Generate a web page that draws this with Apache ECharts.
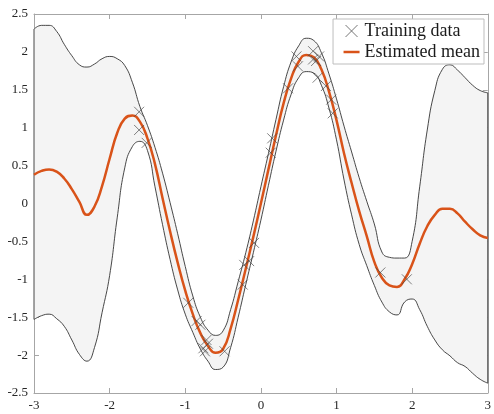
<!DOCTYPE html>
<html>
<head>
<meta charset="utf-8">
<script src="https://cdn.jsdelivr.net/npm/echarts@6/dist/echarts.min.js"></script>
<style>
  html, body { margin: 0; padding: 0; background: #fff; }
  #chart { width: 494px; height: 414px; }
</style>
</head>
<body>
<div id="chart"></div>
<script>
// sample positions along x
var xs = [-3.0, -2.9, -2.8, -2.7, -2.6, -2.5, -2.4, -2.3, -2.2, -2.1,
          -2.0, -1.9, -1.8, -1.7, -1.6, -1.5, -1.4, -1.3, -1.2, -1.1,
          -1.0, -0.9, -0.8, -0.7, -0.6, -0.5, -0.4, -0.3, -0.2, -0.1,
           0.0,  0.1,  0.2,  0.3,  0.4,  0.5,  0.6,  0.7,  0.8,  0.9,
           1.0,  1.1,  1.2,  1.3,  1.4,  1.5,  1.6,  1.7,  1.8,  1.9,
           2.0,  2.1,  2.2,  2.3,  2.4,  2.5,  2.6,  2.7,  2.8,  2.9, 3.0];

var meanVals = [0.38, 0.43, 0.45, 0.42, 0.33, 0.19, 0.02, -0.15, -0.04, 0.23,
                0.59, 0.93, 1.12, 1.16, 1.08, 0.86, 0.52, 0.07, -0.37, -0.78,
                -1.15, -1.46, -1.71, -1.88, -1.97, -1.92, -1.65, -1.27, -0.86, -0.44,
                0.0, 0.45, 0.90, 1.32, 1.65, 1.87, 1.96, 1.93, 1.77, 1.48,
                1.10, 0.66, 0.27, -0.10, -0.43, -0.77, -0.98, -1.08, -1.10, -1.00,
                -0.80, -0.53, -0.30, -0.15, -0.07, -0.07, -0.13, -0.24, -0.34, -0.42, -0.455];

var upperVals = [2.30, 2.35, 2.35, 2.27, 2.10, 1.95, 1.83, 1.80, 1.84, 1.91,
                 1.94, 1.91, 1.82, 1.60, 1.28, 1.03, 0.74, 0.40, 0.01, -0.40,
                 -0.83, -1.22, -1.50, -1.67, -1.74, -1.68, -1.40, -1.03, -0.65, -0.23,
                 0.22, 0.66, 1.11, 1.54, 1.87, 2.08, 2.18, 2.15, 1.99, 1.71,
                 1.38, 1.02, 0.68, 0.34, 0.03, -0.27, -0.64, -0.71, -0.72, -0.72,
                 -0.50, 0.22, 0.97, 1.49, 1.77, 1.83, 1.76, 1.66, 1.56, 1.49, 1.46];

var lowerVals = [-1.53, -1.48, -1.46, -1.52, -1.62, -1.80, -1.99, -2.08, -1.90, -1.44,
                 -0.95, -0.19, 0.47, 0.75, 0.82, 0.70, 0.22, -0.28, -0.74, -1.14,
                 -1.46, -1.70, -1.92, -2.08, -2.19, -2.16, -1.90, -1.50, -1.07, -0.65,
                 -0.22, 0.24, 0.69, 1.10, 1.44, 1.66, 1.74, 1.72, 1.56, 1.26,
                 0.84, 0.31, -0.15, -0.54, -0.82, -1.08, -1.30, -1.43, -1.47, -1.30,
                 -1.26, -1.40, -1.62, -1.80, -1.93, -2.01, -2.10, -2.15, -2.24, -2.32, -2.37];

// training points
var trainX = [-1.61, -1.61, -1.51, -0.96, -0.85, -0.80, -0.72, -0.70, -0.76, -0.74, -0.48,
              -0.24, -0.22, -0.155, -0.09, 0.13, 0.15,
              0.36, 0.47, 0.49, 0.69, 0.69, 0.73, 0.77, 0.75, 0.86, 0.93, 0.95,
              1.58, 1.93];
var trainY = [1.21, 0.97, 0.80, -1.31, -1.55, -1.60, -1.80, -1.85, -1.91, -1.95, -1.95,
              -1.07, -0.81, -0.76, -0.52, 0.67, 0.86,
              1.52, 1.94, 1.81, 2.01, 1.90, 1.88, 1.94, 1.66, 1.55, 1.37, 1.19,
              -0.91, -1.00];

var serif = '"Liberation Serif", "DejaVu Serif", serif';
var axisGrey = '#a6a6a6';
var last = xs.length - 1;

// band thickness for the stacked fill
var bandDiff = upperVals.map(function (u, i) { return +(u - lowerVals[i]).toFixed(3); });

var lineAxis = { show: true, onZero: false, lineStyle: { color: axisGrey, width: 1 } };
var tickIn = { show: true, inside: true, length: 5, lineStyle: { color: axisGrey } };
var labelStyle = { color: '#262626', fontFamily: serif, fontSize: 13, margin: 6 };

var myChart = echarts.init(document.getElementById('chart'));

var thinLine = { color: '#333333', width: 0.9 };

var option = {
    animation: false,
    grid: { left: 34, right: 5, top: 14, bottom: 21, containLabel: false },
    xAxis: [
        {
            type: 'category', position: 'bottom', boundaryGap: false,
            data: xs.map(function (x) { return String(x); }),
            axisLine: lineAxis,
            axisTick: Object.assign({ interval: 9 }, tickIn),
            axisLabel: Object.assign({ interval: 9 }, labelStyle),
            splitLine: { show: false }
        },
        {
            type: 'value', position: 'top', min: -3, max: 3, interval: 1,
            axisLine: lineAxis, axisTick: tickIn,
            axisLabel: { show: false }, splitLine: { show: false }
        }
    ],
    yAxis: [
        {
            type: 'value', position: 'left', min: -2.5, max: 2.5, interval: 0.5,
            axisLine: lineAxis, axisTick: tickIn, axisLabel: labelStyle,
            splitLine: { show: false }
        },
        {
            type: 'value', position: 'right', min: -2.5, max: 2.5, interval: 0.5,
            axisLine: lineAxis, axisTick: tickIn, axisLabel: { show: false },
            splitLine: { show: false }
        }
    ],
    legend: {
        right: 10, top: 19,
        orient: 'vertical',
        backgroundColor: '#ffffff',
        borderColor: '#bdbdbd', borderWidth: 1, borderRadius: 0,
        padding: [3, 4, 3, 10],
        itemGap: 3,
        itemWidth: 16, itemHeight: 12,
        symbolKeepAspect: true,
        textStyle: { fontFamily: serif, fontSize: 18, color: '#1a1a1a' },
        data: [
            { name: 'Training data', icon: 'path://M0,0L10,10M10,0L0,10',
              itemStyle: { color: 'none', borderColor: '#555555', borderWidth: 1 } },
            { name: 'Estimated mean', icon: 'path://M0,0H16V2.5H0Z',
              itemStyle: { color: '#D95319', borderWidth: 0 } }
        ]
    },
    series: [
        {
            name: 'lowerBase', type: 'line', stack: 'band', stackStrategy: 'all', smooth: 0.5,
            data: lowerVals, symbol: 'none', silent: true,
            lineStyle: { opacity: 0 }
        },
        {
            name: 'band', type: 'line', stack: 'band', stackStrategy: 'all', smooth: 0.5,
            data: bandDiff, symbol: 'none', silent: true,
            lineStyle: { opacity: 0 },
            areaStyle: { color: '#f4f4f4', opacity: 1 }
        },
        {
            name: 'upper', type: 'line', smooth: 0.5, data: upperVals,
            symbol: 'none', silent: true, lineStyle: thinLine
        },
        {
            name: 'lower', type: 'line', smooth: 0.5, data: lowerVals,
            symbol: 'none', silent: true, lineStyle: thinLine
        },
        {
            name: 'edges', type: 'line', xAxisIndex: 1, symbol: 'none', silent: true,
            data: [[xs[0], lowerVals[0]], [xs[0], upperVals[0]], '-',
                   [xs[last], lowerVals[last]], [xs[last], upperVals[last]]],
            lineStyle: thinLine
        },
        {
            name: 'Estimated mean', type: 'line', smooth: 0.5, data: meanVals,
            symbol: 'none', color: '#D95319',
            lineStyle: { color: '#D95319', width: 2.5 }
        },
        {
            name: 'Training data', type: 'scatter', xAxisIndex: 1,
            data: trainX.map(function (x, i) { return [x, trainY[i]]; }),
            symbol: 'path://M0,0L10,10M10,0L0,10', symbolSize: 10,
            itemStyle: { color: 'none', borderColor: 'rgba(70,70,70,0.85)', borderWidth: 1 },
            z: 5
        }
    ]
};

myChart.setOption(option);
</script>
</body>
</html>
